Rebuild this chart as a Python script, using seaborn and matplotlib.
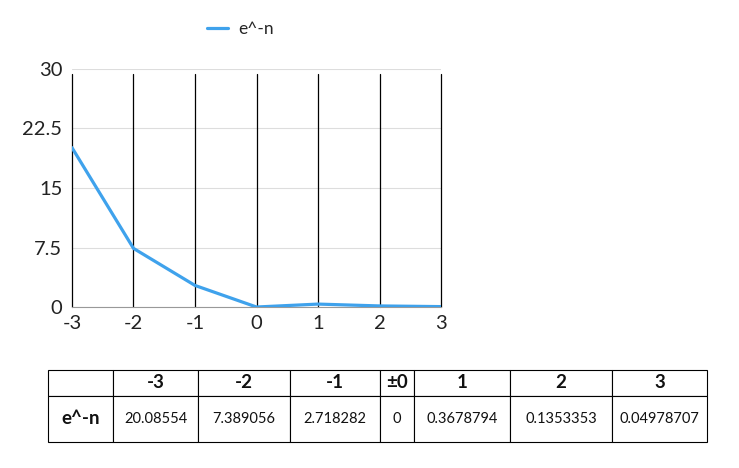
import seaborn as sns
import matplotlib.pyplot as plt
import pandas as pd

n = [-3, -2, -1, 0, 1, 2, 3]
values = [20.08554, 7.389056, 2.718282, 0, 0.3678794, 0.1353353, 0.04978707]
header_labels = ['-3', '-2', '-1', '±0', '1', '2', '3']
value_labels = ['20.08554', '7.389056', '2.718282', '0', '0.3678794', '0.1353353', '0.04978707']
series_name = 'e^-n'
y_ticks = [0, 7.5, 15, 22.5, 30]
y_ticklabels = ['0', '7.5', '15', '22.5', '30']

sns.set_style('white')
plt.rcParams['font.family'] = ['Lato', 'DejaVu Sans']

df = pd.DataFrame({'n': n, series_name: values})

fig = plt.figure(figsize=(7.39, 4.68), dpi=100)
ax = fig.add_axes([0.0974, 0.344, 0.4994, 0.5086])

sns.lineplot(data=df, x='n', y=series_name, ax=ax, color='#3FA2EC',
             linewidth=2.3, label=series_name, zorder=3)

ax.set_xlim(-3, 3)
ax.set_ylim(0, 30)
ax.set_xticks(n)
ax.set_xticklabels([str(v) for v in n])
ax.set_yticks(y_ticks)
ax.set_yticklabels(y_ticklabels)
ax.tick_params(length=0, labelsize=14.5, colors='#222222')
ax.tick_params(axis='y', pad=7)
ax.tick_params(axis='x', pad=6)
ax.set_xlabel('')
ax.set_ylabel('')

# grid: light horizontal, black vertical
ax.yaxis.grid(True, color='#dddddd', linewidth=0.8)
for xv in n:
    ax.axvline(xv, ymax=0.98, color='black', linewidth=0.9, clip_on=False, zorder=1)
ax.set_axisbelow(True)
for s in ['top', 'right', 'left']:
    ax.spines[s].set_visible(False)
ax.spines['bottom'].set_color('#999999')
ax.spines['bottom'].set_linewidth(0.8)

ax.legend(loc='center', bbox_to_anchor=(0.325, 0.938), bbox_transform=fig.transFigure,
          frameon=False, fontsize=12.5, handlelength=1.2, handletextpad=0.6)

# table below the chart
col_px = [65, 85, 92, 90, 34, 96, 102, 95]
row_px = [26, 46]
cell_text = [[''] + header_labels, [series_name] + value_labels]
tab = ax.table(cellText=cell_text, cellLoc='center',
               bbox=[48 / 739, 1 - 442 / 468, 659 / 739, 72 / 468],
               transform=fig.transFigure)
tab.auto_set_font_size(False)
for (r, c), cell in tab.get_celld().items():
    cell.set_width(col_px[c])
    cell.set_height(row_px[r])
    cell.set_edgecolor('black')
    cell.set_linewidth(0.8)
    txt = cell.get_text()
    if r == 0 or c == 0:
        txt.set_fontsize(13.5)
        txt.set_fontweight('bold')
    else:
        txt.set_fontsize(10.5)
    txt.set_color('#111111')

fig.savefig('out.png', dpi=100)
